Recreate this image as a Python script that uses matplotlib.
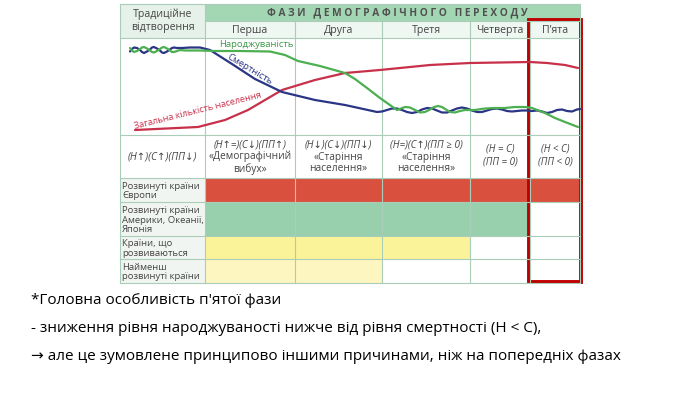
import matplotlib
matplotlib.use('Agg')
import matplotlib.pyplot as plt
from matplotlib.patches import Rectangle

# --- table layout (pixels of the 700x394 slide) ---
col_edges = [120, 205, 295, 382, 470, 530, 580]
row_edges = [4, 21, 38, 135, 178, 202, 236, 259, 283]

phase_names = ['Перша', 'Друга', 'Третя', 'Четверта', 'П\u2019ята']
formulas = ['(Н\u2191=)(С\u2193)(ПП\u2191)', '(Н\u2193)(С\u2193)(ПП\u2193)',
            '(Н=)(С\u2191)(ПП \u2265 0)', '(Н = С)', '(Н < С)']
formula_notes = ['«Демографічний\nвибух»', '«Старіння\nнаселення»',
                 '«Старіння\nнаселення»', '(ПП = 0)', '(ПП < 0)']
region_labels = ['Розвинуті країни\nЄвропи', 'Розвинуті країни\nАмерики, Океанії,\nЯпонія',
                 'Країни, що\nрозвиваються', 'Найменш\nрозвинуті країни']
region_colors = ['#d9513e', '#98d0ad', '#fbf39a', '#fdf6c0']
# number of phases each region has passed through
region_phases = [5, 4, 3, 2]

# --- curves (x px, y px) ---
birth_x = [130, 132, 134, 137, 140, 142, 144, 147, 150, 152, 154, 157, 160, 162, 164, 167, 170,
           172, 174, 177, 180, 185, 190, 200, 215, 240, 270, 285,
           298, 320, 345, 355, 367, 380, 397, 401, 405, 410, 415, 420, 425, 430, 434, 438, 442,
           446, 450, 455, 460, 465, 475, 485, 495, 505, 515, 525, 532, 545, 555, 565, 578]
birth_y = [48, 50.5, 52, 51, 49, 47.5, 47, 48.5, 50.5, 52, 52.5, 51, 49, 47.5, 47, 48.5, 50.5,
           52, 52, 51, 50, 50.5, 50.5, 50.5, 51, 51, 51.5, 55,
           61, 66, 73, 79, 88, 98, 110, 108.5, 107, 107.5, 110, 112.5, 112, 109.5, 107, 106, 107,
           109.5, 112, 112.5, 111, 110, 110, 108.5, 108, 108, 107, 107, 108, 113, 118, 122, 127]
death_x = [130, 132, 134, 137, 140, 142, 144, 147, 150, 152, 154, 157, 160, 162, 164, 167, 170,
           172, 174, 177, 182, 190, 200, 210, 232, 255, 282,
           315, 345, 377, 382, 387, 392, 397, 402, 407, 412, 417, 422, 427, 432, 437, 442, 447,
           452, 457, 462, 467, 472, 477, 482, 487, 492, 497, 502, 507, 512, 517, 522, 527, 532,
           537, 542, 547, 552, 557, 562, 567, 572, 577, 580]
death_y = [51.5, 49, 47.5, 48, 50, 52, 53, 51.5, 49.5, 47.5, 47, 48.5, 50.5, 52.5, 53, 51.5, 49.5,
           48, 47.5, 48, 48, 47.5, 47.5, 50, 64, 79, 92,
           100, 105, 112, 111.5, 110, 108.5, 108.5, 110, 112, 113, 112, 109.5, 108, 108.5, 110.5,
           112.5, 112.5, 110.5, 108.5, 107.5, 108.5, 110.5, 112, 112, 110.5, 109, 108.5, 109.5,
           111, 111.5, 111, 110.5, 110.5, 111, 110.5, 111.5, 113, 112, 110, 109.5, 111, 111.5,
           109.5, 109]
pop_x = [135, 198, 225, 248, 282, 315, 345, 380, 430, 470, 530, 547, 565, 578]
pop_y = [130, 127, 120, 110, 90, 80, 73, 70, 65, 63, 62, 63, 65, 68]

bottom_lines = ['*Головна особливість п\'ятої фази',
                '- зниження рівня народжуваності нижче від рівня смертності (Н < С),',
                '\u2192 але це зумовлене принципово іншими причинами, ніж на попередніх фазах']

grid = '#a9cdb9'
txt = '#454545'

fig = plt.figure(figsize=(7, 3.94), dpi=100)
ax = fig.add_axes([0, 0, 1, 1])
ax.set_xlim(0, 700)
ax.set_ylim(394, 0)
ax.axis('off')

L, R = col_edges[0], col_edges[-1]

# header fills
ax.add_patch(Rectangle((col_edges[1], row_edges[0]), R - col_edges[1], row_edges[1] - row_edges[0],
                       fc='#a3d6b3', ec='none'))
ax.add_patch(Rectangle((L, row_edges[0]), col_edges[1] - L, row_edges[2] - row_edges[0],
                       fc='#e6f1ea', ec='none'))
ax.add_patch(Rectangle((col_edges[1], row_edges[1]), R - col_edges[1], row_edges[2] - row_edges[1],
                       fc='#eef7f1', ec='none'))

# region rows
for i, (lab, c, n) in enumerate(zip(region_labels, region_colors, region_phases)):
    y0, y1 = row_edges[4 + i], row_edges[5 + i]
    ax.add_patch(Rectangle((L, y0), col_edges[1] - L, y1 - y0, fc='#f1f5f1', ec='none'))
    x1 = col_edges[1 + n]
    ax.add_patch(Rectangle((col_edges[1], y0), x1 - col_edges[1], y1 - y0, fc=c, ec='none'))
    ax.text(L + 2, (y0 + y1) / 2 + 1, lab, fontsize=6.8, color=txt, va='center', ha='left',
            linespacing=1.1, family='Open Sans')

# grid lines
for x in col_edges[1:-1]:
    y_top = row_edges[0] if x == col_edges[1] else row_edges[1]
    ax.plot([x, x], [y_top, row_edges[-1]], color=grid, lw=0.8)
for x in (L, R):
    ax.plot([x, x], [row_edges[0], row_edges[-1]], color=grid, lw=0.8)
for y in row_edges:
    x_left = col_edges[1] if y == row_edges[1] else L
    ax.plot([x_left, R], [y, y], color=grid, lw=0.8)

# header texts
ax.text((L + col_edges[1]) / 2, 20.5, 'Традиційне\nвідтворення', fontsize=7.6, color=txt,
        ha='center', va='center', linespacing=1.2, family='Open Sans')
ax.text((col_edges[1] + R) / 2 + 5, 13, 'Ф А З И   Д Е М О Г Р А Ф І Ч Н О Г О   П Е Р Е Х О Д У',
        fontsize=7.3, fontweight='bold', color='#505050', ha='center', va='center', family='Open Sans')
for i, name in enumerate(phase_names):
    ax.text((col_edges[1 + i] + col_edges[2 + i]) / 2, 30, name, fontsize=7.6, color=txt,
            ha='center', va='center', family='Open Sans')

# formula row
fy0, fy1 = row_edges[3], row_edges[4]
ax.text((L + col_edges[1]) / 2, (fy0 + fy1) / 2, '(Н\u2191)(С\u2191)(ПП\u2193)', fontsize=7.3,
        color=txt, style='italic', ha='center', va='center', family=['Open Sans', 'DejaVu Sans'])
for i in range(5):
    cx = (col_edges[1 + i] + col_edges[2 + i]) / 2
    if i < 3:
        ax.text(cx, fy0 + 10, formulas[i], fontsize=7.1, color=txt, style='italic',
                ha='center', va='center', family=['Open Sans', 'DejaVu Sans'])
        ax.text(cx, fy0 + 28, formula_notes[i], fontsize=7.3, color=txt, ha='center',
                va='center', linespacing=1.1, family='Open Sans')
    else:
        ax.text(cx, (fy0 + fy1) / 2 - 1, formulas[i] + '\n' + formula_notes[i], fontsize=7,
                color=txt, style='italic', ha='center', va='center', linespacing=1.35,
                family=['Open Sans', 'DejaVu Sans'])

# curves
ax.plot(pop_x, pop_y, color='#c8304a', lw=1.6, solid_capstyle='round')
ax.plot(death_x, death_y, color='#2b3585', lw=1.6, solid_capstyle='round', solid_joinstyle='round')
ax.plot(birth_x, birth_y, color='#4caf50', lw=1.6, solid_capstyle='round', solid_joinstyle='round')
ax.text(256, 44, 'Народжуваність', fontsize=6.8, color='#3c9a48', ha='center', va='center',
        family='Open Sans')
ax.text(250, 69, 'Смертність', fontsize=6.8, color='#2b3585', ha='center', va='center',
        rotation=-31, family='Open Sans')
ax.text(198, 111, 'Загальна кількість населення', fontsize=6.6, color='#c8304a', ha='center',
        va='center', rotation=14, family='Open Sans')

# highlight of the fifth phase
ax.add_patch(Rectangle((529, 20), 52, 262, fc='none', ec='#c00000', lw=2.8))

# bottom notes
for i, line in enumerate(bottom_lines):
    ax.text(31, 300 + 28.5 * i, line, fontsize=11, color='black', ha='left', va='center',
            family=['Open Sans', 'DejaVu Sans'])

fig.savefig('out.png', dpi=100, facecolor='white')
